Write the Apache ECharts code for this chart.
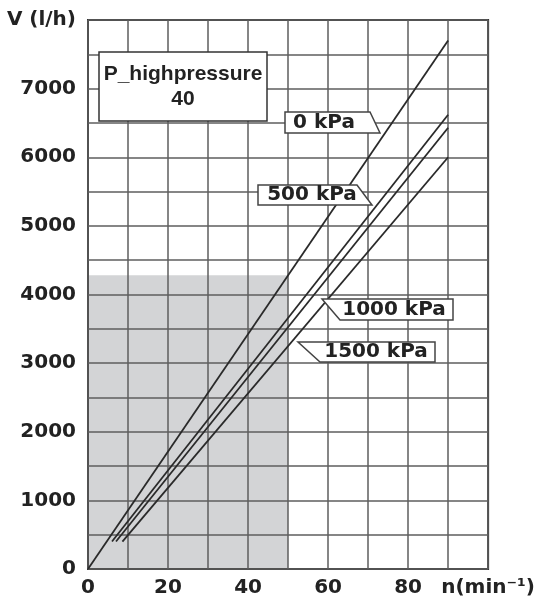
<!DOCTYPE html>
<html><head><meta charset="utf-8">
<script src="https://cdn.jsdelivr.net/npm/echarts@6/dist/echarts.min.js"></script>
<style>html,body{margin:0;padding:0;background:#fff}#c{width:538px;height:598px}</style>
</head><body><div id="c"></div>
<script>
// ---- data ----
const xTickLabels = [0, 20, 40, 60, 80];
const yTickLabels = [0, 1000, 2000, 3000, 4000, 5000, 6000, 7000];
const xAxisName = 'n(min\u207B\u00B9)';
const yAxisName = 'V (l/h)';
const seriesNames = ['0 kPa', '500 kPa', '1000 kPa', '1500 kPa'];
const line0kPa = [[0, 0], [90, 7700]];
const line500kPa = [[6, 400], [90, 6620]];
const line1000kPa = [[7, 400], [90, 6430]];
const line1500kPa = [[8.6, 400], [90, 6000]];
const shadedRange = [[0, 4280], [50, 4280]];
const boxTitle = ['P_highpressure', '40'];

const chart = echarts.init(document.getElementById('c'), null, {renderer: 'canvas'});
const lineColor = '#2a2a2a';
const axisFont = {fontFamily: 'DejaVu Sans', fontWeight: 'bold', fontSize: 20, color: '#222'};

function mkLine(name, data) {
  return {
    name, type: 'line', data, symbol: 'none', z: 3,
    lineStyle: {color: lineColor, width: 1.8}, animation: false
  };
}

const option = {
  backgroundColor: '#fff',
  animation: false,
  grid: {left: 88, right: 49, top: 20, bottom: 28, show: true, borderColor: '#333', borderWidth: 2},
  xAxis: {
    type: 'value', min: 0, max: 100, interval: 10,
    axisLine: {show: false}, axisTick: {show: false},
    splitLine: {show: true, lineStyle: {color: '#5e5e5e', width: 1.5}},
    axisLabel: Object.assign({}, axisFont, {
      margin: 9, showMinLabel: true, showMaxLabel: true,
      formatter: v => v === 100 ? xAxisName : (xTickLabels.includes(v) ? String(v) : '')
    })
  },
  yAxis: {
    type: 'value', min: 0, max: 8000, interval: 500,
    axisLine: {show: false}, axisTick: {show: false},
    splitLine: {show: true, lineStyle: {color: '#5e5e5e', width: 1.5}},
    axisLabel: Object.assign({}, axisFont, {
      margin: 12, showMinLabel: true, showMaxLabel: true,
      formatter: v => v === 8000 ? yAxisName : (yTickLabels.includes(v) ? String(v) : '')
    })
  },
  series: [
    {
      name: 'shaded', type: 'line', data: shadedRange, symbol: 'none', z: -1,
      lineStyle: {width: 0}, areaStyle: {color: '#d3d4d6', opacity: 1, origin: 'start'}
    },
    mkLine(seriesNames[0], line0kPa),
    mkLine(seriesNames[1], line500kPa),
    mkLine(seriesNames[2], line1000kPa),
    mkLine(seriesNames[3], line1500kPa)
  ]
};
chart.setOption(option);

// ---- annotations ----
const calloutStyle = {fill: '#fff', stroke: '#444', lineWidth: 1.5};
const calloutText = {fontFamily: 'DejaVu Sans', fontWeight: 'bold', fontSize: 20, fill: '#222', align: 'center', verticalAlign: 'middle'};
const callouts = [
  {text: seriesNames[0], pts: [[285,112],[370,112],[380,133],[285,133]], c: [324,123]},
  {text: seriesNames[1], pts: [[258,185],[357,185],[372,205],[258,205]], c: [312,195]},
  {text: seriesNames[2], pts: [[322,299],[453,299],[453,320],[340,320]], c: [394,310]},
  {text: seriesNames[3], pts: [[298,342],[435,342],[435,362],[320,362]], c: [376,352]}
];
const graphics = [
  {type: 'rect', shape: {x: 99, y: 52, width: 168, height: 69}, style: {fill: '#fff', stroke: '#333', lineWidth: 1.5}, z: 10},
  {type: 'text', x: 183, y: 74, z: 11, style: {text: boxTitle[0], fontFamily: 'Liberation Sans', fontWeight: 'bold', fontSize: 21, fill: '#222', align: 'center', verticalAlign: 'middle'}},
  {type: 'text', x: 183, y: 99, z: 11, style: {text: boxTitle[1], fontFamily: 'Liberation Sans', fontWeight: 'bold', fontSize: 21, fill: '#222', align: 'center', verticalAlign: 'middle'}}
];
callouts.forEach(c => {
  graphics.push({type: 'polygon', shape: {points: c.pts}, style: calloutStyle, z: 10});
  graphics.push({type: 'text', x: c.c[0], y: c.c[1], z: 11, style: Object.assign({text: c.text}, calloutText)});
});
chart.setOption({graphic: graphics});
</script>
</body></html>
